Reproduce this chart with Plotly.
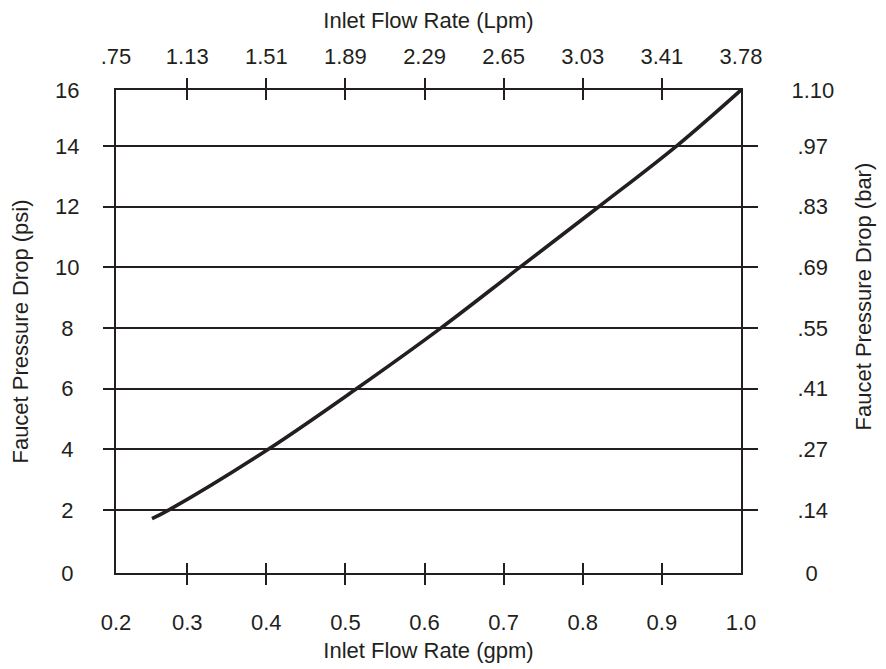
import plotly.graph_objects as go

# ---- data ----
gpm = [0.2555, 0.277, 0.4025, 0.5143, 0.6209, 0.7207, 0.8206, 0.9188, 1.0]
psi = [1.71, 2.0, 4.0, 6.0, 8.0, 10.0, 12.0, 14.0, 15.84]

gpm_tick_vals = [0.21, 0.3, 0.4, 0.5, 0.6, 0.7, 0.8, 0.9, 1.0]
gpm_tick_labels = ["0.2", "0.3", "0.4", "0.5", "0.6", "0.7", "0.8", "0.9", "1.0"]
lpm_tick_labels = [".75", "1.13", "1.51", "1.89", "2.29", "2.65", "3.03", "3.41", "3.78"]
inner_x_ticks = [0.3, 0.4, 0.5, 0.6, 0.7, 0.8, 0.9]

psi_tick_vals = [-0.08, 2, 4, 6, 8, 10, 12, 14, 15.84]
psi_tick_labels = ["0", "2", "4", "6", "8", "10", "12", "14", "16"]
bar_tick_labels = ["0", ".14", ".27", ".41", ".55", ".69", ".83", ".97", "1.10"]
inner_y_ticks = [2, 4, 6, 8, 10, 12, 14]

X_RANGE = [0.21, 1.0]
Y_RANGE = [-0.08, 15.84]

INK = "#231f20"
FONT = "Liberation Sans, Arial, Helvetica, sans-serif"
FS = 22
NB = "\u00a0"


def pad_left_axis(t):
    # centre single-digit labels against two-digit ones (right aligned axis)
    return t + NB if len(t) == 1 else t


def pad_right_axis(t):
    # centre labels against the widest one (left aligned axis)
    if t == "1.10":
        return t
    if len(t) == 1:
        return NB + NB + "\u200a" + t
    return NB + t


fig = go.Figure()
fig.add_trace(go.Scatter(
    x=gpm, y=psi, mode="lines",
    line=dict(color=INK, width=3.6, shape="spline", smoothing=1.0),
    showlegend=False, hoverinfo="x+y",
))
# companion (invisible) trace so the secondary axes are rendered
fig.add_trace(go.Scatter(
    x=gpm, y=psi, mode="lines", xaxis="x2", yaxis="y2",
    line=dict(color="rgba(0,0,0,0)", width=0),
    showlegend=False, hoverinfo="skip",
))

common_x = dict(
    range=X_RANGE, tickmode="array", tickvals=gpm_tick_vals,
    ticks="inside", ticklen=10, tickwidth=2, tickcolor=INK,
    showline=True, linewidth=2, linecolor=INK,
    showgrid=False, zeroline=False, automargin=False,
    tickfont=dict(family=FONT, size=FS, color=INK),
    minor=dict(tickmode="array", tickvals=inner_x_ticks, ticks="outside",
               ticklen=10, tickwidth=2, tickcolor=INK, showgrid=False),
)
common_y = dict(
    range=Y_RANGE, tickmode="array", tickvals=psi_tick_vals,
    ticks="", showline=True, linewidth=2, linecolor=INK,
    zeroline=False, automargin=False,
    tickfont=dict(family=FONT, size=FS, color=INK),
)

fig.update_layout(
    width=886, height=669,
    margin=dict(l=108, r=153, t=82, b=104, pad=0),
    paper_bgcolor="white", plot_bgcolor="white",
    font=dict(family=FONT, size=FS, color=INK),
    xaxis=dict(
        **common_x, ticktext=gpm_tick_labels, side="bottom",
        ticklabelstandoff=29,
        title=dict(text="Inlet Flow Rate (gpm)", standoff=8,
                   font=dict(family=FONT, size=FS, color=INK)),
    ),
    xaxis2=dict(
        **common_x, ticktext=lpm_tick_labels, side="top",
        overlaying="x", matches="x", anchor="y2",
        ticklabelstandoff=15,
        title=dict(text="Inlet Flow Rate (Lpm)", standoff=14,
                   font=dict(family=FONT, size=FS, color=INK)),
    ),
    yaxis=dict(
        **common_y, ticktext=[pad_left_axis(t) for t in psi_tick_labels],
        side="left", showgrid=True, gridcolor=INK, gridwidth=1.7,
        ticklabelstandoff=30,
        minor=dict(tickmode="array", tickvals=inner_y_ticks, ticks="outside",
                   ticklen=11, tickwidth=1.7, tickcolor=INK, showgrid=False),
        title=dict(text="Faucet Pressure Drop (psi)", standoff=23,
                   font=dict(family=FONT, size=FS, color=INK)),
    ),
    yaxis2=dict(
        **common_y, ticktext=[pad_right_axis(t) for t in bar_tick_labels],
        side="right", overlaying="y", matches="y", anchor="x2",
        showgrid=False, ticklabelstandoff=44,
        minor=dict(tickmode="array", tickvals=inner_y_ticks, ticks="outside",
                   ticklen=15, tickwidth=1.7, tickcolor=INK, showgrid=False),
    ),
    annotations=[dict(
        text="Faucet Pressure Drop (bar)", textangle=-90,
        xref="paper", yref="paper", x=1.1956, y=0.573,
        xanchor="center", yanchor="middle", showarrow=False,
        font=dict(family=FONT, size=FS, color=INK),
    )],
)

fig.write_html("out.html")
